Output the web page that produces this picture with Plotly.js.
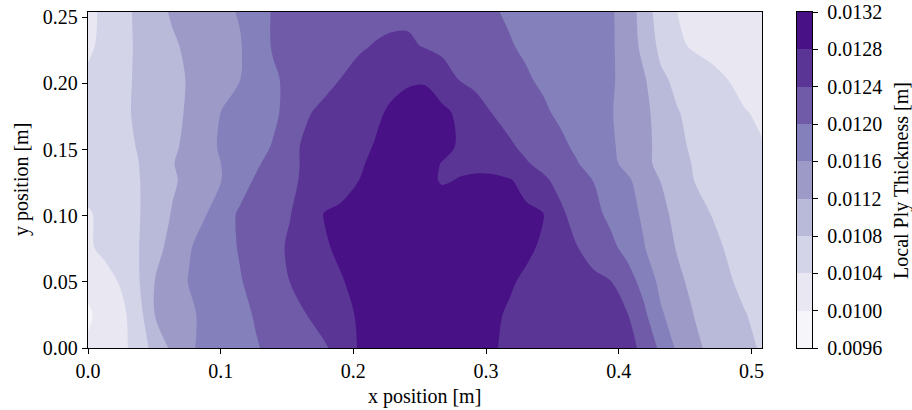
<!DOCTYPE html>
<html><head><meta charset="utf-8">
<script src="https://cdn.plot.ly/plotly-3.0.1.min.js"></script>
<style>html,body{margin:0;padding:0;background:#fff}#chart{width:912px;height:410px}</style>
</head><body><div id="chart"></div>
<script>
// x / y positions of the thickness samples [m]
const xPos = [0,0.0127,0.0254,0.0381,0.0508,0.0635,0.0762,0.0889,0.1016,0.1143,0.127,0.1397,0.1524,0.1651,0.1778,0.1905,0.2032,0.2159,0.2286,0.2413,0.254,0.2667,0.2794,0.2921,0.3048,0.3175,0.3302,0.3429,0.3556,0.3683,0.381,0.3937,0.4064,0.4191,0.4318,0.4445,0.4572,0.4699,0.4826,0.4953,0.508];
const yPos = [0,0.0254,0.0508,0.0762,0.1016,0.127,0.1397,0.1524,0.1778,0.2032,0.2286,0.254];

// local ply thickness [m], one row per y position (bottom to top)
const t_y0000 = [0.010040,0.010176,0.010308,0.010560,0.010960,0.011272,0.011552,0.011684,0.011780,0.011880,0.011980,0.012072,0.012164,0.012260,0.012352,0.012532,0.012808,0.012872,0.012940,0.013012,0.013080,0.013016,0.012948,0.012884,0.012816,0.012768,0.012720,0.012672,0.012628,0.012580,0.012536,0.012488,0.012444,0.012368,0.011896,0.011528,0.011276,0.011120,0.011000,0.010884,0.010764];
const t_y0254 = [0.009960,0.010104,0.010304,0.010644,0.011224,0.011384,0.011544,0.011676,0.011796,0.011912,0.012032,0.012156,0.012276,0.012404,0.012552,0.012700,0.012824,0.012892,0.012960,0.013032,0.013100,0.013036,0.012968,0.012904,0.012836,0.012776,0.012724,0.012672,0.012620,0.012568,0.012520,0.012468,0.012416,0.012076,0.011648,0.011400,0.011188,0.011064,0.010936,0.010812,0.010700];
const t_y0508 = [0.010080,0.010256,0.010452,0.010772,0.011216,0.011420,0.011616,0.011736,0.011856,0.011976,0.012116,0.012264,0.012408,0.012536,0.012660,0.012784,0.012860,0.012932,0.013000,0.013072,0.013104,0.013048,0.012992,0.012940,0.012884,0.012828,0.012764,0.012692,0.012620,0.012548,0.012476,0.012404,0.012164,0.011856,0.011492,0.011268,0.011104,0.010972,0.010836,0.010708,0.010580];
const t_y0762 = [0.010340,0.010500,0.010644,0.010788,0.011068,0.011332,0.011572,0.011732,0.011876,0.012024,0.012164,0.012304,0.012448,0.012612,0.012772,0.012844,0.012900,0.012956,0.013012,0.013068,0.013124,0.013104,0.013052,0.013000,0.012948,0.012896,0.012844,0.012768,0.012592,0.012412,0.012252,0.012092,0.011880,0.011616,0.011376,0.011168,0.011032,0.010892,0.010760,0.010640,0.010520];
const t_y1016 = [0.010360,0.010504,0.010640,0.010776,0.010996,0.011224,0.011408,0.011588,0.011844,0.012044,0.012160,0.012272,0.012388,0.012596,0.012808,0.012856,0.012908,0.012960,0.013012,0.013064,0.013116,0.013152,0.013096,0.013040,0.012980,0.012924,0.012868,0.012812,0.012472,0.012264,0.012096,0.011920,0.011736,0.011540,0.011288,0.011100,0.010940,0.010792,0.010688,0.010584,0.010480];
const t_y1270 = [0.010560,0.010636,0.010708,0.010784,0.010952,0.011148,0.011308,0.011456,0.011612,0.011844,0.012048,0.012196,0.012340,0.012464,0.012576,0.012684,0.012792,0.012876,0.012960,0.013000,0.013000,0.012740,0.012820,0.012880,0.012892,0.012828,0.012680,0.012464,0.012296,0.012144,0.011992,0.011828,0.011656,0.011436,0.011188,0.010984,0.010792,0.010724,0.010656,0.010588,0.010520];
const t_y1397 = [0.010560,0.010640,0.010720,0.010796,0.010988,0.011180,0.011328,0.011472,0.011616,0.011784,0.011948,0.012132,0.012324,0.012460,0.012560,0.012660,0.012760,0.012848,0.012920,0.012964,0.012884,0.012792,0.012700,0.012672,0.012624,0.012528,0.012428,0.012300,0.012160,0.012020,0.011856,0.011688,0.011500,0.011296,0.011100,0.010912,0.010772,0.010700,0.010624,0.010552,0.010480];
const t_y1524 = [0.010560,0.010644,0.010724,0.010816,0.010972,0.011128,0.011304,0.011496,0.011656,0.011772,0.011892,0.012024,0.012316,0.012464,0.012552,0.012636,0.012724,0.012812,0.012880,0.012952,0.012936,0.012868,0.012780,0.012680,0.012564,0.012448,0.012324,0.012200,0.012076,0.011944,0.011800,0.011656,0.011484,0.011300,0.011092,0.010868,0.010744,0.010664,0.010580,0.010500,0.010420];
const t_y1778 = [0.010540,0.010640,0.010740,0.010848,0.010976,0.011104,0.011248,0.011448,0.011624,0.011728,0.011836,0.011940,0.012112,0.012372,0.012480,0.012568,0.012656,0.012744,0.012844,0.012960,0.013004,0.012880,0.012740,0.012564,0.012392,0.012280,0.012164,0.012052,0.011944,0.011840,0.011732,0.011628,0.011464,0.011284,0.011064,0.010816,0.010708,0.010612,0.010516,0.010420,0.010340];
const t_y2032 = [0.010480,0.010604,0.010724,0.010848,0.010976,0.011104,0.011228,0.011352,0.011472,0.011592,0.011768,0.011952,0.012080,0.012188,0.012296,0.012404,0.012508,0.012612,0.012716,0.012748,0.012756,0.012600,0.012392,0.012300,0.012212,0.012120,0.012032,0.011952,0.011872,0.011796,0.011720,0.011644,0.011492,0.011244,0.010868,0.010712,0.010608,0.010504,0.010396,0.010260,0.010120];
const t_y2286 = [0.010320,0.010516,0.010692,0.010856,0.011004,0.011152,0.011268,0.011368,0.011468,0.011568,0.011832,0.012032,0.012096,0.012156,0.012220,0.012284,0.012348,0.012416,0.012452,0.012464,0.012368,0.012296,0.012228,0.012160,0.012088,0.012020,0.011956,0.011892,0.011828,0.011768,0.011704,0.011644,0.011472,0.011064,0.010700,0.010460,0.010348,0.010280,0.010216,0.010148,0.010080];
const t_y2540 = [0.010300,0.010480,0.010680,0.010880,0.011084,0.011240,0.011332,0.011424,0.011516,0.011628,0.011884,0.012024,0.012064,0.012108,0.012152,0.012192,0.012236,0.012276,0.012320,0.012312,0.012256,0.012196,0.012140,0.012084,0.012024,0.011968,0.011916,0.011860,0.011804,0.011752,0.011696,0.011640,0.011476,0.010980,0.010628,0.010392,0.010324,0.010260,0.010192,0.010128,0.010060];

// contour levels and their labels
const levels = [0.0096,0.0100,0.0104,0.0108,0.0112,0.0116,0.0120,0.0124,0.0128,0.0132];
const levelLabels = ['0.0096','0.0100','0.0104','0.0108','0.0112','0.0116','0.0120','0.0124','0.0128','0.0132'];
const bandColors = ['rgb(246,245,249)','rgb(232,231,242)','rgb(211,212,232)','rgb(185,185,218)','rgb(158,154,200)','rgb(131,128,188)','rgb(111,91,168)','rgb(91,53,150)','rgb(72,17,133)'];

const xTickVals = [0,0.1,0.2,0.3,0.4,0.5];
const xTickText = ['0.0','0.1','0.2','0.3','0.4','0.5'];
const yTickVals = [0,0.05,0.10,0.15,0.20,0.25];
const yTickText = ['0.00','0.05','0.10','0.15','0.20','0.25'];

const thickness = [t_y0000,t_y0254,t_y0508,t_y0762,t_y1016,t_y1270,t_y1397,t_y1524,t_y1778,t_y2032,t_y2286,t_y2540];

// discrete colour scale for the filled contour bands
const contourScale = [];
bandColors.forEach(function(c,k){
  const lo = k === 0 ? 0 : (k + 0.5) / 10;
  const hi = k === bandColors.length - 1 ? 1 : (k + 1.5) / 10;
  contourScale.push([lo, c], [hi, c]);
});
// discrete colour scale for the colour bar
const barScale = [];
bandColors.forEach(function(c,k){
  barScale.push([k / 9, c], [(k + 1) / 9, c]);
});
const barZ = levels.slice(0, -1).map(function(l, i){ return [(l + levels[i + 1]) / 2]; });

const FONT = 'Liberation Serif, Times New Roman, serif';

const traces = [
  {
    type: 'contour', x: xPos, y: yPos, z: thickness,
    contours: {start: levels[0], end: levels[levels.length - 1], size: 0.0004, coloring: 'fill', showlines: false},
    line: {width: 0, smoothing: 0.9},
    colorscale: contourScale, showscale: false, hoverinfo: 'skip'
  },
  {
    type: 'heatmap', x: [0, 1], y: levels, z: barZ,
    zmin: levels[0], zmax: levels[levels.length - 1],
    colorscale: barScale, showscale: false, xaxis: 'x2', yaxis: 'y2', hoverinfo: 'skip'
  }
];

const axisCommon = {
  ticks: 'outside', ticklen: 5, tickwidth: 1, tickcolor: '#000',
  showline: true, mirror: true, linecolor: '#000', linewidth: 1.2,
  showgrid: false, zeroline: false, tickfont: {family: FONT, size: 20, color: '#000'}
};

const layout = {
  width: 912, height: 410,
  margin: {l: 88, r: 0, t: 12, b: 62},
  paper_bgcolor: '#fff', plot_bgcolor: '#fff',
  font: {family: FONT, size: 20, color: '#000'},
  showlegend: false,
  xaxis: Object.assign({}, axisCommon, {domain: [0, 0.81796], range: [0, 0.508], tickmode: 'array', tickvals: xTickVals, ticktext: xTickText}),
  yaxis: Object.assign({}, axisCommon, {domain: [0, 1], range: [0, 0.254], tickmode: 'array', tickvals: yTickVals, ticktext: yTickText}),
  xaxis2: {domain: [0.86044, 0.87864], range: [0, 1], anchor: 'y2', showticklabels: false, ticks: '', showline: true, mirror: true, linecolor: '#000', linewidth: 1.2, showgrid: false, zeroline: false},
  yaxis2: Object.assign({}, axisCommon, {domain: [0, 1], range: [levels[0], levels[levels.length - 1]], anchor: 'x2', side: 'right', tickmode: 'array', tickvals: levels, ticktext: levelLabels, ticklabelstandoff: 5}),
  annotations: [
    {text: 'x position [m]', xref: 'paper', yref: 'paper', x: 0.40898, y: -0.1458, xanchor: 'center', yanchor: 'middle', showarrow: false, font: {family: FONT, size: 20, color: '#000'}},
    {text: 'y position [m]', xref: 'paper', yref: 'paper', x: -0.0813, y: 0.5, xanchor: 'center', yanchor: 'middle', textangle: -90, showarrow: false, font: {family: FONT, size: 20, color: '#000'}},
    {text: 'Local Ply Thickness [m]', xref: 'paper', yref: 'paper', x: 0.9866, y: 0.5, xanchor: 'center', yanchor: 'middle', textangle: -90, showarrow: false, font: {family: FONT, size: 20, color: '#000'}}
  ]
};

Plotly.newPlot('chart', traces, layout, {staticPlot: true, displayModeBar: false});
</script>
</body></html>
